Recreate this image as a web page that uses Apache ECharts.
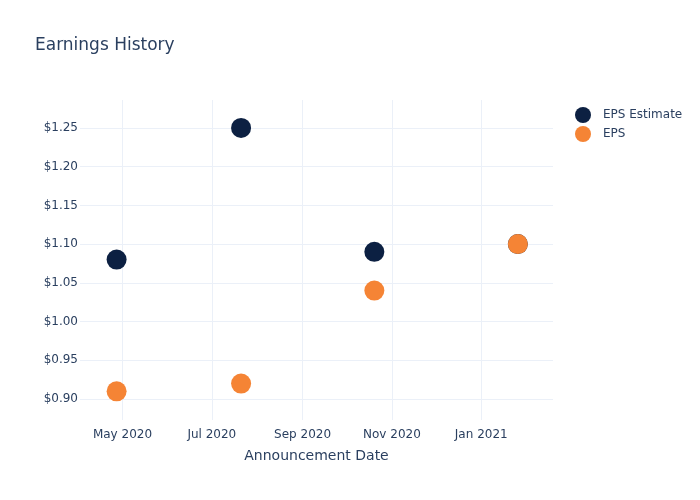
<!DOCTYPE html>
<html>
<head>
<meta charset="utf-8">
<script src="https://cdn.jsdelivr.net/npm/echarts@6/dist/echarts.min.js"></script>
<style>html,body{margin:0;padding:0;background:#fff}#c{width:700px;height:500px}</style>
</head>
<body>
<div id="c"></div>
<script>
const dates = ['2020-04-27', '2020-07-21', '2020-10-20', '2021-01-26'];
const epsEstimate = [1.08, 1.25, 1.09, 1.10];
const eps = [0.91, 0.92, 1.04, 1.10];
const xTickDates = ['2020-05-01', '2020-07-01', '2020-09-01', '2020-11-01', '2021-01-01'];
const xTickLabels = ['May 2020', 'Jul 2020', 'Sep 2020', 'Nov 2020', 'Jan 2021'];
const yTicks = [0.90, 0.95, 1.00, 1.05, 1.10, 1.15, 1.20, 1.25];

const FONT = '"DejaVu Sans", "Open Sans", sans-serif';
const TXT = '#2a3f5f';
const ts = d => new Date(d + 'T00:00:00Z').getTime();
const xTickVals = xTickDates.map(ts);
const labelMap = {};
xTickVals.forEach((v, i) => { labelMap[v] = xTickLabels[i]; });

const chart = echarts.init(document.getElementById('c'), null, {renderer: 'canvas'});
chart.setOption({
  animation: false,
  backgroundColor: '#fff',
  textStyle: {fontFamily: FONT},
  title: {
    text: 'Earnings History', left: 30, top: 32,
    textStyle: {fontFamily: FONT, fontSize: 17, fontWeight: 'normal', color: TXT}
  },
  legend: {
    orient: 'vertical', left: 570, top: 102, itemGap: 3,
    itemWidth: 30, itemHeight: 16, icon: 'circle',
    textStyle: {fontFamily: FONT, fontSize: 12, color: TXT},
    data: ['EPS Estimate', 'EPS']
  },
  grid: {left: 80, right: 147, top: 100, bottom: 80},
  xAxis: {
    type: 'value',
    min: ts('2020-04-02'), max: ts('2021-02-19'),
    name: 'Announcement Date', nameLocation: 'middle', nameGap: 29,
    nameTextStyle: {fontFamily: FONT, fontSize: 14, color: TXT},
    axisLine: {show: false},
    axisTick: {show: false, customValues: xTickVals},
    axisLabel: {
      customValues: xTickVals, margin: 9,
      fontFamily: FONT, fontSize: 12, color: TXT,
      formatter: v => labelMap[v] || ''
    },
    splitLine: {show: true, lineStyle: {color: '#ebf0f8', width: 1}}
  },
  yAxis: {
    type: 'value', min: 0.873, max: 1.286,
    axisLine: {show: false},
    axisTick: {show: false, customValues: yTicks},
    axisLabel: {
      customValues: yTicks, margin: 2,
      fontFamily: FONT, fontSize: 12, color: TXT,
      formatter: v => '$' + v.toFixed(2)
    },
    splitLine: {show: true, lineStyle: {color: '#ebf0f8', width: 1}}
  },
  series: [
    {
      name: 'EPS Estimate', type: 'scatter', symbolSize: 20,
      itemStyle: {color: '#0c2042', opacity: 1},
      data: dates.map((d, i) => [ts(d), epsEstimate[i]])
    },
    {
      name: 'EPS', type: 'scatter', symbolSize: 20,
      itemStyle: {color: '#f58435', opacity: 1},
      data: dates.map((d, i) => [ts(d), eps[i]])
    }
  ]
});
</script>
</body>
</html>
